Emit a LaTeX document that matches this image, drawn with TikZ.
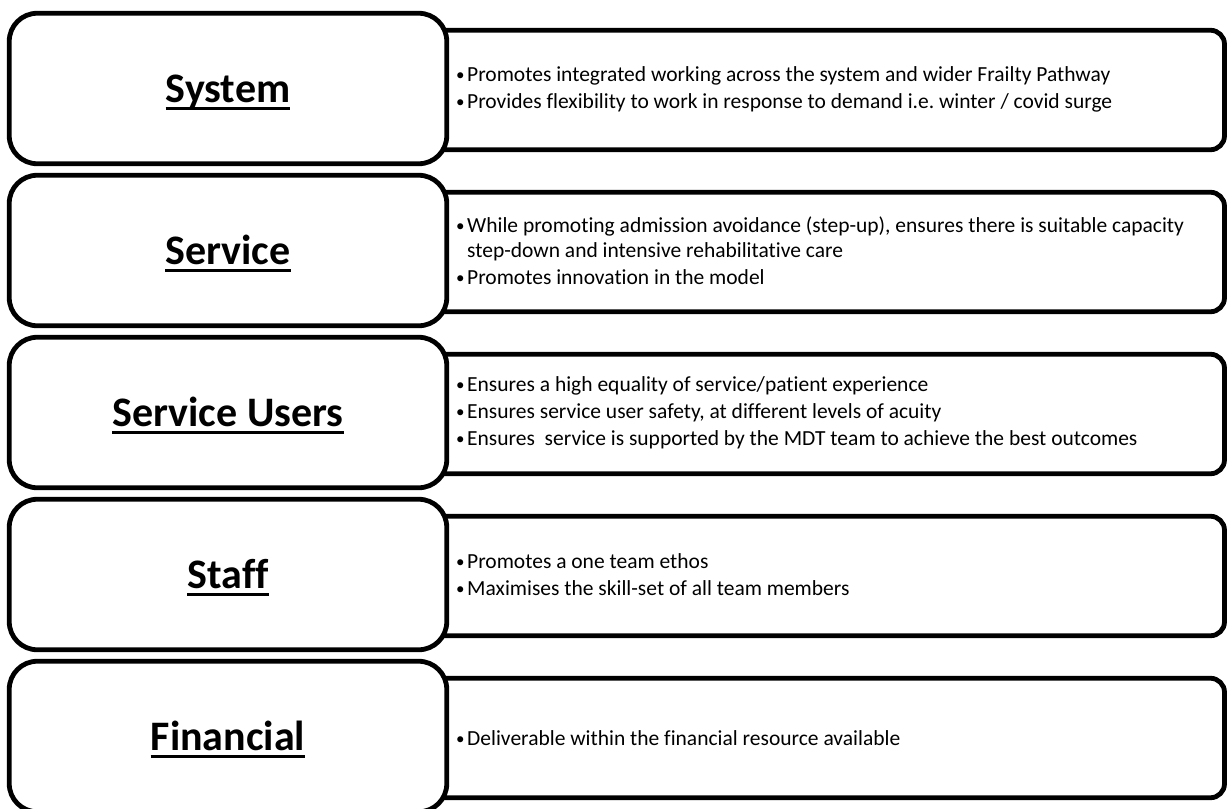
\documentclass[tikz,border=0pt]{standalone}
\usepackage{fontspec}
\setmainfont[Ligatures={NoCommon}]{Carlito}
\frenchspacing
\newcommand{\bitem}[1]{\par\hangindent=13pt\hangafter=1\noindent\makebox[13pt][l]{\hspace{2pt}\raisebox{1pt}{\fontsize{17}{17}\selectfont•}}#1}
\newcommand{\bodytext}[1]{\begin{minipage}{765pt}\fontsize{21.5}{25}\selectfont\setlength{\parskip}{2pt}#1\end{minipage}}
\begin{document}
\begin{tikzpicture}[x=1pt,y=-1pt,
  leftbox/.style={draw, line width=4.8pt, rounded corners=28pt, fill=white,
    minimum width=437.5pt, minimum height=150.5pt, inner sep=0pt},
  rightbox/.style={draw, line width=4.8pt, rounded corners=14pt,
    minimum width=844.5pt, minimum height=119.5pt, inner sep=0pt},
  title/.style={font=\fontsize{42}{50}\selectfont\bfseries, inner sep=0pt, anchor=base},
  body/.style={anchor=west, inner sep=0pt},
  uline/.style={line width=3pt}
]
\useasboundingbox (0,0) rectangle (1227,809);
\clip (0,0) rectangle (1227,809);

% Row 1 (top 11)
\node[rightbox] (r1) at (802.25,90) {};
\node[leftbox] (l1) at (228,88.5) {};
\node[title] (t1) at (228,102) {System};
\draw[uline] ([yshift=-6pt]t1.base west) -- ([yshift=-6pt]t1.base east);
\node[body] (b1) at (454,89) {\bodytext{%
\bitem{Promotes integrated working across the system and wider Frailty Pathway}
\bitem{Provides flexibility to work in response to demand i.e. winter / covid surge}}};

% Row 2 (top 173)
\node[rightbox] (r2) at (802.25,252) {};
\node[leftbox] (l2) at (228,250.5) {};
\node[title] (t2) at (228,264) {Service};
\draw[uline] ([yshift=-6pt]t2.base west) -- ([yshift=-6pt]t2.base east);
\node[body] (b2) at (454,251) {\bodytext{%
\bitem{While promoting admission avoidance (step-up), ensures there is suitable capacity\newline step-down and intensive rehabilitative care}
\bitem{Promotes innovation in the model}}};

% Row 3 (top 335)
\node[rightbox] (r3) at (802.25,414) {};
\node[leftbox] (l3) at (228,412.5) {};
\node[title] (t3) at (228,426) {Service Users};
\draw[uline] ([yshift=-6pt]t3.base west) -- ([yshift=-6pt]t3.base east);
\node[body] (b3) at (454,413) {\bodytext{%
\bitem{Ensures a high equality of service/patient experience}
\bitem{Ensures service user safety, at different levels of acuity}
\bitem{Ensures\ \ service is supported by the MDT team to achieve the best outcomes}}};

% Row 4 (top 497)
\node[rightbox] (r4) at (802.25,576) {};
\node[leftbox] (l4) at (228,574.5) {};
\node[title] (t4) at (228,588) {Staff};
\draw[uline] ([yshift=-6pt]t4.base west) -- ([yshift=-6pt]t4.base east);
\node[body] (b4) at (454,575) {\bodytext{%
\bitem{Promotes a one team ethos}
\bitem{Maximises the skill-set of all team members}}};

% Row 5 (top 659)
\node[rightbox] (r5) at (802.25,738) {};
\node[leftbox] (l5) at (228,736.5) {};
\node[title] (t5) at (228,750) {Financial};
\draw[uline] ([yshift=-6pt]t5.base west) -- ([yshift=-6pt]t5.base east);
\node[body] (b5) at (454,738) {\bodytext{%
\bitem{Deliverable within the financial resource available}}};
\end{tikzpicture}
\end{document}
